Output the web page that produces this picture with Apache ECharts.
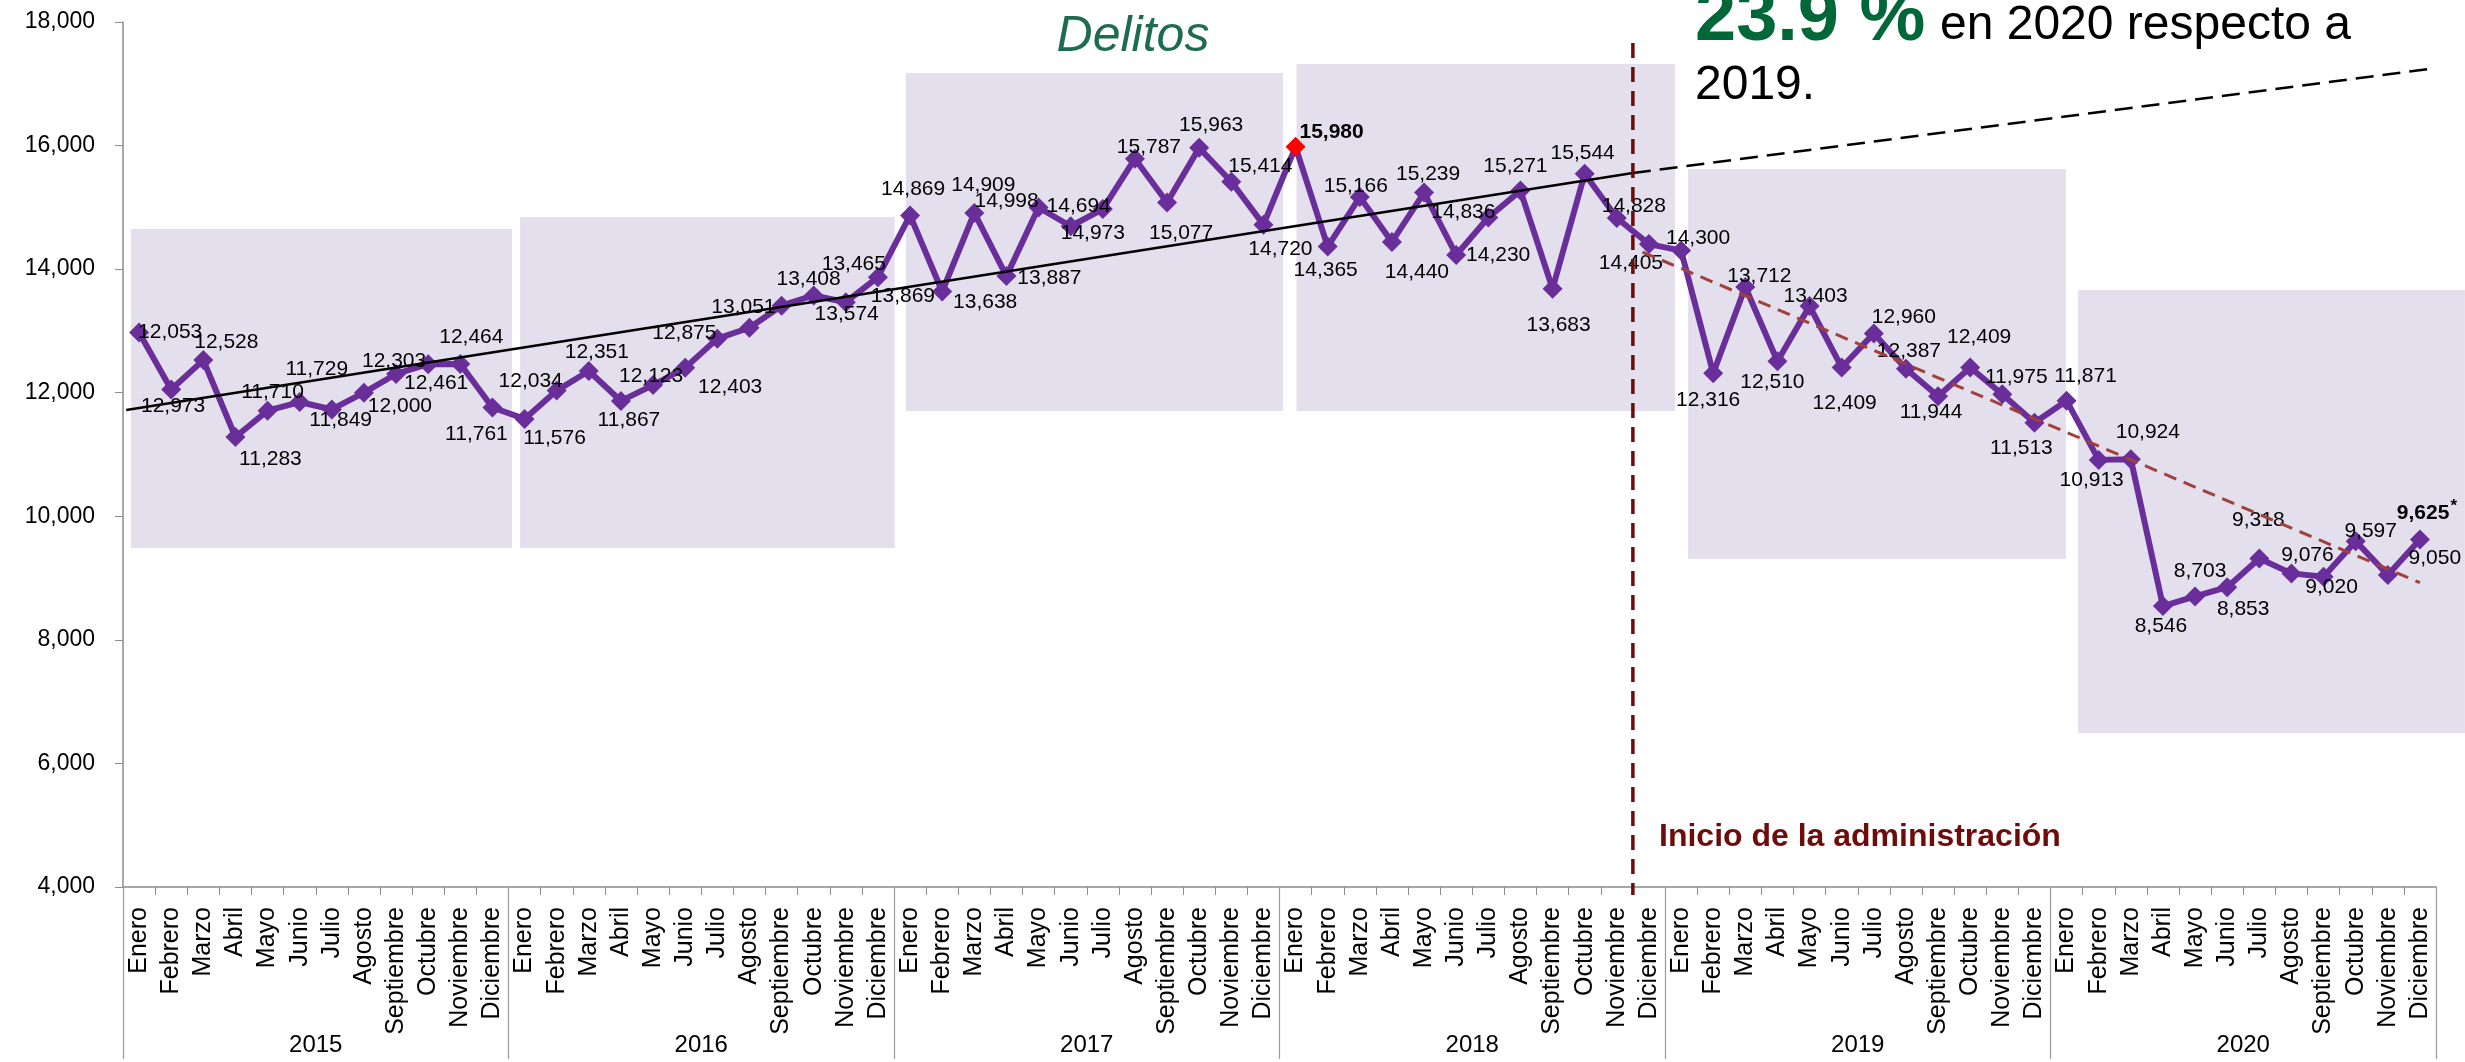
<!DOCTYPE html>
<html>
<head>
<meta charset="utf-8">
<title>Delitos</title>
<script src="https://cdn.jsdelivr.net/npm/echarts@6.0.0/dist/echarts.min.js"></script>
<style>
  html, body { margin: 0; padding: 0; background: #fff; }
  #chart { width: 2465px; height: 1062px; }
</style>
</head>
<body>
<div id="chart"></div>
<script>
const months = ['Enero', 'Febrero', 'Marzo', 'Abril', 'Mayo', 'Junio', 'Julio', 'Agosto', 'Septiembre', 'Octubre', 'Noviembre', 'Diciembre'];
const years = ['2015', '2016', '2017', '2018', '2019', '2020'];

// delitos por mes
const delitos2015 = [12973, 12053, 12528, 11283, 11710, 11849, 11729, 12000, 12303, 12461, 12464, 11761];
const delitos2016 = [11576, 12034, 12351, 11867, 12123, 12403, 12875, 13051, 13408, 13574, 13465, 13869];
const delitos2017 = [14869, 13638, 14909, 13887, 14998, 14694, 14973, 15787, 15077, 15963, 15414, 14720];
const delitos2018 = [15980, 14365, 15166, 14440, 15239, 14230, 14836, 15271, 13683, 15544, 14828, 14405];
const delitos2019 = [14300, 12316, 13712, 12510, 13403, 12409, 12960, 12387, 11944, 12409, 11975, 11513];
const delitos2020 = [11871, 10913, 10924, 8546, 8703, 8853, 9318, 9076, 9020, 9597, 9050, 9625];

// tendencias, x = meses desde enero 2015
const tendenciaAntes = [[0.1, 11720], [47, 15555]];
const proyeccion = [[47, 15555], [72, 17254]];
const tendenciaDespues = [[47.3, 14277], [71.5, 8925]];
const inicioAdmin = [[47, 17660], [47, 3870]];

// recuadros por año: [x inicio, x fin, arriba, abajo]
const recuadros = [
  [0.25, 12.11, 14649, 9486],
  [12.36, 24.02, 14843, 9486],
  [24.37, 36.11, 17174, 11704],
  [36.53, 48.31, 17319, 11704],
  [48.72, 60.48, 15620, 9308],
  [60.86, 72.9, 13662, 6492]
];

const etiquetasMes = [];
years.forEach(() => months.forEach(m => etiquetasMes.push(m)));
const valores = [].concat(delitos2015, delitos2016, delitos2017, delitos2018, delitos2019, delitos2020);

// donde va cada etiqueta respecto a su punto (como en la lamina)
const desplaza = [
  [34, 74], [-1, -57], [23, -18], [35, 22], [5, -18], [41, 18], [-15, -40], [36, 13], [-2, -13], [8, 19], [11, -27], [-16, 27],
  [30, 19], [-26, -9], [8, -19], [8, 19], [-2, -9], [45, 19], [-33, -5], [-6, -21], [27, -27], [33, 19], [8, -38], [25, 19],
  [3, -26], [43, 11], [9, -28], [43, 2], [-32, -6], [8, -20], [-10, 24], [14, -12], [14, 31], [12, -23], [29, -16], [17, 25],
  [36, -15], [-2, 24], [-4, -11], [25, 30], [4, -18], [42, 0], [-25, -5], [-5, -24], [6, 36], [-2, -21], [17, -12], [-18, 19],
  [17, -12], [-5, 27], [14, -11], [-5, 21], [6, -10], [3, 36], [30, -16], [3, -18], [-7, 16], [9, -30], [14, -17], [-13, 25],
  [19, -24], [-7, 20], [17, -27], [-2, 20], [5, -25], [16, 22], [-1, -38], [16, -18], [8, 10], [15, -10], [47, -17], [7, -26]
];

const fmt = v => v.toLocaleString('en-US');
const maxIdx = valores.indexOf(Math.max(...valores));
const lastIdx = valores.length - 1;

const puntos = valores.map((v, i) => {
  const item = { value: v, label: { offset: desplaza[i] } };
  if (i === maxIdx) {
    item.itemStyle = { color: '#ff0000' };
    item.label.fontWeight = 'bold';
  }
  if (i === lastIdx) {
    item.label.formatter = p => '{b|' + fmt(p.value) + '}{s|*}';
  }
  return item;
});

const font = 'Liberation Sans, Arial, sans-serif';
const chart = echarts.init(document.getElementById('chart'));

const option = {
  animation: false,
  backgroundColor: '#ffffff',
  grid: { left: 123, right: 29, top: 22, bottom: 175, containLabel: false, outerBoundsMode: 'none' },
  xAxis: [
    {
      type: 'category',
      data: etiquetasMes,
      position: 'bottom',
      axisLine: { lineStyle: { color: '#8c8c8c', width: 1.5 } },
      axisTick: { show: true, interval: 0, length: 8, lineStyle: { color: '#8c8c8c' } },
      axisLabel: { interval: 0, rotate: 90, margin: 20, fontSize: 25, color: '#000', fontFamily: font }
    },
    {
      type: 'category',
      data: years,
      position: 'bottom',
      axisLine: { show: false },
      axisTick: { show: true, interval: 0, length: 172, lineStyle: { color: '#9a9a9a', width: 1.2 } },
      axisLabel: { interval: 0, margin: 146, fontSize: 24, color: '#000', fontFamily: font }
    },
    { type: 'value', min: 0, max: 72, show: false }
  ],
  yAxis: {
    type: 'value',
    min: 4000,
    max: 18000,
    interval: 2000,
    axisLine: { show: true, lineStyle: { color: '#8c8c8c', width: 1.5 } },
    axisTick: { show: true, length: 8, lineStyle: { color: '#8c8c8c' } },
    splitLine: { show: false },
    axisLabel: { margin: 28, fontSize: 23, color: '#000', fontFamily: font, formatter: v => fmt(v) }
  },
  series: [
    {
      type: 'custom',
      xAxisIndex: 2,
      z: 1,
      silent: true,
      data: recuadros,
      renderItem: (params, api) => {
        const a = api.coord([api.value(0), api.value(2)]);
        const b = api.coord([api.value(1), api.value(3)]);
        return {
          type: 'rect',
          shape: { x: a[0], y: a[1], width: b[0] - a[0], height: b[1] - a[1] },
          style: { fill: '#e4dfec' }
        };
      }
    },
    {
      name: 'Delitos',
      type: 'line',
      xAxisIndex: 0,
      z: 3,
      data: puntos,
      symbol: 'diamond',
      symbolSize: 20,
      lineStyle: { color: '#6a2e9b', width: 6 },
      itemStyle: { color: '#6a2e9b' },
      label: {
        show: true,
        position: 'inside',
        fontSize: 21,
        color: '#000',
        fontFamily: font,
        formatter: p => fmt(p.value),
        rich: {
          b: { fontSize: 21, fontWeight: 'bold', color: '#000', fontFamily: font },
          s: { fontSize: 17, fontWeight: 'bold', color: '#000', fontFamily: font, padding: [0, 0, 14, 1] }
        }
      }
    },
    {
      type: 'line', xAxisIndex: 2, z: 4, silent: true, clip: false, symbol: 'none',
      data: tendenciaAntes,
      lineStyle: { color: '#000', width: 2.5 }
    },
    {
      type: 'line', xAxisIndex: 2, z: 4, silent: true, clip: false, symbol: 'none',
      data: proyeccion,
      lineStyle: { color: '#000', width: 2.5, type: [18, 9] }
    },
    {
      type: 'line', xAxisIndex: 2, z: 4, silent: true, clip: false, symbol: 'none',
      data: tendenciaDespues,
      lineStyle: { color: '#a0413b', width: 3, type: [13, 8] }
    },
    {
      type: 'line', xAxisIndex: 2, z: 4, silent: true, clip: false, symbol: 'none',
      data: inicioAdmin,
      lineStyle: { color: '#6e0c0c', width: 3.5, type: [15, 9] }
    }
  ],
  graphic: [
    {
      type: 'text', x: 1133, y: 37, z: 10, silent: true,
      style: { text: 'Delitos', fill: '#1f6b50', font: 'italic 50px ' + font, textAlign: 'center', textVerticalAlign: 'middle' }
    },
    {
      type: 'text', x: 1695, y: 20, z: 10, silent: true,
      style: { text: '23.9 %', fill: '#006838', font: 'bold 74px ' + font, textAlign: 'left', textVerticalAlign: 'middle' }
    },
    {
      type: 'text', x: 1940, y: 26, z: 10, silent: true,
      style: { text: 'en 2020 respecto a', fill: '#000', font: '48px ' + font, textAlign: 'left', textVerticalAlign: 'middle' }
    },
    {
      type: 'text', x: 1695, y: 86, z: 10, silent: true,
      style: { text: '2019.', fill: '#000', font: '48px ' + font, textAlign: 'left', textVerticalAlign: 'middle' }
    },
    {
      type: 'text', x: 1659, y: 837, z: 10, silent: true,
      style: { text: 'Inicio de la administración', fill: '#6e0c0c', font: 'bold 32px ' + font, textAlign: 'left', textVerticalAlign: 'middle' }
    }
  ]
};

chart.setOption(option);
</script>
</body>
</html>
